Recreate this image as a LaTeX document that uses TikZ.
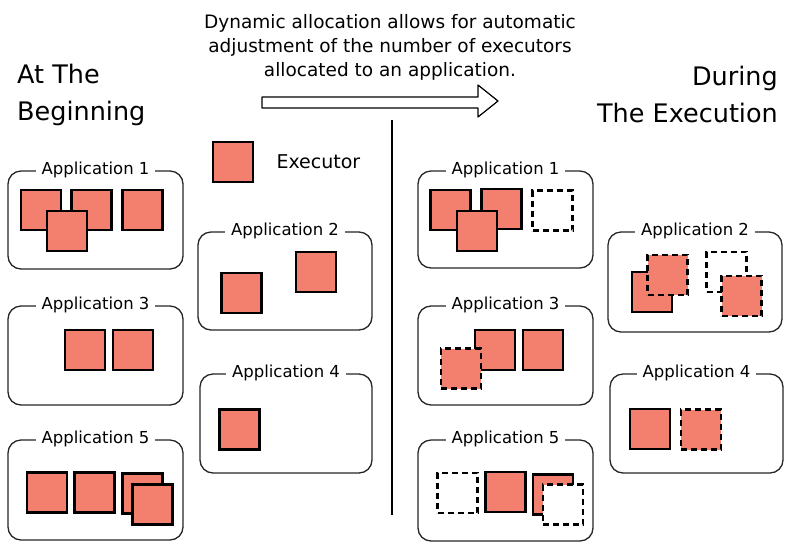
\documentclass[tikz,border=0pt]{standalone}
\usepackage{fontspec}
\setmainfont{DejaVu Sans}
\definecolor{salmon}{RGB}{243,128,110}
\tikzset{
  exec/.style={minimum size=40, inner sep=0pt, fill=salmon, draw=black, line width=2.8pt},
  execd/.style={exec, dash pattern=on 6pt off 4pt},
  execempty/.style={execd, fill=white, line width=2.3pt},
  appbox/.style={draw=black!85, rounded corners=13pt, line width=1.3pt, inner sep=0pt},
  applabel/.style={fill=white, inner xsep=6pt, inner ysep=1pt, font=\fontsize{16.5}{18}\selectfont},
  bigtitle/.style={font=\fontsize{25.5}{37}\selectfont, inner sep=0pt},
}
\begin{document}
\begin{tikzpicture}[x=1pt,y=-1pt]
\useasboundingbox (0,0) rectangle (800,550);
\fill[white] (0,0) rectangle (800,550);

% headline
\node[align=center, font=\fontsize{18.5}{24}\selectfont, inner sep=0pt] (head) at (390,47)
  {Dynamic allocation allows for automatic\\adjustment of the number of executors\\allocated to an application.};
\node[bigtitle, anchor=north west, align=left] (begin) at (17,64) {At The\\Beginning};
\node[bigtitle, anchor=north east, align=right] (during) at (778,66) {During\\The Execution};

% arrow
\draw[line width=1.2pt, fill=white, line join=round] (262,97) -- (478,97) -- (478,85) -- (498,101) -- (478,117) -- (478,108) -- (262,108) -- cycle;

% divider
\coordinate (divtop) at (392,120);
\coordinate (divbot) at (392,515);
\draw[line width=1.2pt] (divtop) -- (divbot);

% legend
\node[exec] (legend) at (233,162) {};
\node[font=\fontsize{19}{20}\selectfont, anchor=west] (legendtxt) at (273,162) {Executor};

% ---------- left side ----------
\node[appbox, minimum width=175, minimum height=98] (L1) at (95.5,220) {};
\node[applabel] (L1t) at (L1.north) {Application 1};
\node[exec] (L1a) at (41,210) {};
\node[exec] (L1b) at (91.5,210) {};
\node[exec] (L1c) at (142.5,210) {};
\node[exec] (L1d) at (67,231) {};

\node[appbox, minimum width=174, minimum height=98] (L2) at (285,281) {};
\node[applabel] (L2t) at (L2.north) {Application 2};
\node[exec] (L2a) at (241.5,293) {};
\node[exec] (L2b) at (316,272) {};

\node[appbox, minimum width=175, minimum height=99] (L3) at (95.5,355.5) {};
\node[applabel] (L3t) at (L3.north) {Application 3};
\node[exec] (L3a) at (85,350) {};
\node[exec] (L3b) at (133,350) {};

\node[appbox, minimum width=172, minimum height=99] (L4) at (286,423.5) {};
\node[applabel] (L4t) at (L4.north) {Application 4};
\node[exec] (L4a) at (239.5,429.5) {};

\node[appbox, minimum width=175, minimum height=100] (L5) at (95.5,490) {};
\node[applabel] (L5t) at (L5.north) {Application 5};
\node[exec] (L5a) at (47,492.5) {};
\node[exec] (L5b) at (94.5,492.5) {};
\node[exec] (L5c) at (142.5,493.5) {};
\node[exec] (L5d) at (152.5,504.5) {};

% ---------- right side ----------
\node[appbox, minimum width=175, minimum height=97] (R1) at (505.5,219.5) {};
\node[applabel] (R1t) at (R1.north) {Application 1};
\node[exec] (R1a) at (450.5,210) {};
\node[exec] (R1b) at (501.5,209) {};
\node[exec] (R1c) at (477,231) {};
\node[execempty] (R1d) at (552.5,210.5) {};

\node[appbox, minimum width=174, minimum height=100] (R2) at (695,282) {};
\node[applabel] (R2t) at (R2.north) {Application 2};
\node[exec] (R2a) at (652,292) {};
\node[execd] (R2b) at (667.5,275) {};
\node[execempty] (R2c) at (726.5,272) {};
\node[execd] (R2d) at (741.5,296) {};

\node[appbox, minimum width=175, minimum height=99] (R3) at (505.5,355.5) {};
\node[applabel] (R3t) at (R3.north) {Application 3};
\node[exec] (R3a) at (495,350) {};
\node[exec] (R3b) at (543,350) {};
\node[execd] (R3c) at (461,368.5) {};

\node[appbox, minimum width=173, minimum height=99] (R4) at (696.5,423.5) {};
\node[applabel] (R4t) at (R4.north) {Application 4};
\node[exec] (R4a) at (650,429) {};
\node[execd] (R4b) at (701,429.5) {};

\node[appbox, minimum width=175, minimum height=101] (R5) at (505.5,490.5) {};
\node[applabel] (R5t) at (R5.north) {Application 5};
\node[execempty] (R5a) at (457.5,493) {};
\node[exec] (R5b) at (505.5,492) {};
\node[exec] (R5c) at (553,494.5) {};
\node[execempty] (R5d) at (563,504.5) {};
\end{tikzpicture}
\end{document}
